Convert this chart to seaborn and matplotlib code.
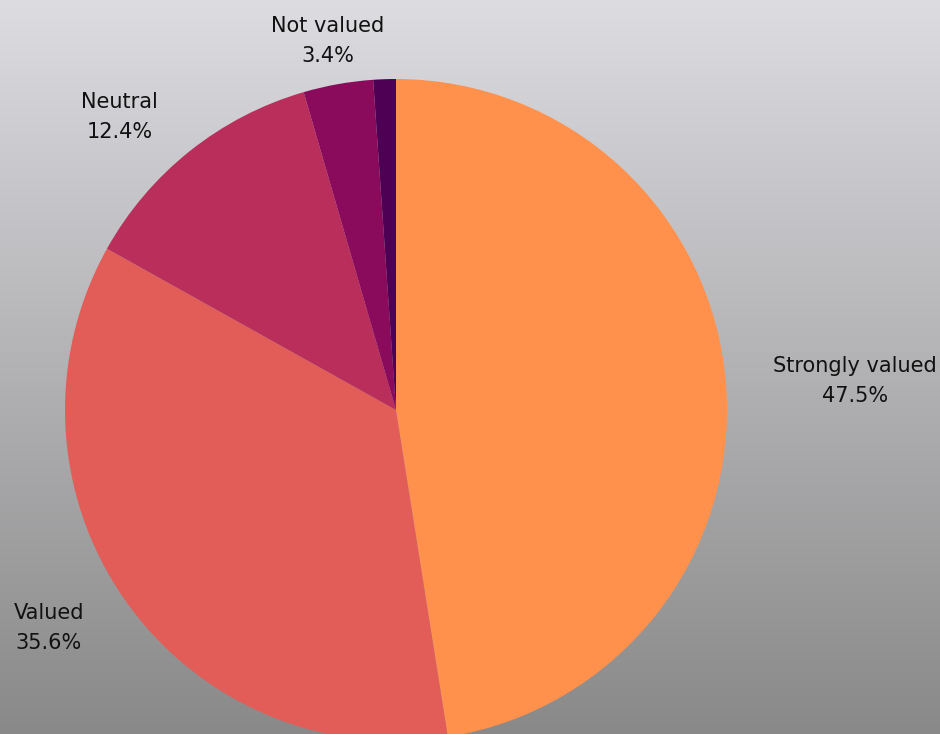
import numpy as np
import matplotlib
matplotlib.use("Agg")
import matplotlib.pyplot as plt
import seaborn as sns

# Survey answers, clockwise from 12 o'clock
categories = ["Strongly valued", "Valued", "Neutral", "Not valued", ""]
shares = [47.5, 35.6, 12.4, 3.4, 1.1]
pct_labels = ["47.5%", "35.6%", "12.4%", "3.4%", ""]
slice_colors = ["#FF914D", "#E35D58", "#B92E5A", "#8A0A5C", "#4E0054"]

# label placement: distance (x radius) and small angle nudge (deg) off the slice middle
label_dist = [1.39, 1.238, 1.216, 1.134, 1.1]
label_nudge = [-0.9, -2.8, 4.8, 0.4, 0.0]

sns.set_style("white")
plt.rcParams["font.family"] = ["DejaVu Sans"]

W, H = 940, 734
fig = plt.figure(figsize=(W / 100, H / 100), dpi=100)

# gradient background, light grey at the top to darker grey at the bottom
bg = fig.add_axes([0, 0, 1, 1])
top = np.array([220, 220, 225]) / 255
bottom = np.array([137, 137, 137]) / 255
t = np.linspace(0, 1, 256)[:, None]
grad = (1 - t) * top + t * bottom
bg.imshow(grad[:, None, :], aspect="auto", extent=[0, 1, 0, 1], zorder=0)
bg.set_axis_off()

ax = fig.add_axes([0, 0, 1, 1])
ax.patch.set_alpha(0)

cx, cy, r = 396, H - 410, 331
wedges, _ = ax.pie(shares, colors=slice_colors, startangle=90, counterclock=False,
                   center=(cx, cy), radius=r, frame=True,
                   wedgeprops=dict(linewidth=0))
ax.set_xlim(0, W)
ax.set_ylim(0, H)
ax.set_aspect("equal")
ax.set_axis_off()

for w, name, pct, d, nudge in zip(wedges, categories, pct_labels, label_dist, label_nudge):
    if not name:
        continue
    ang = np.deg2rad((w.theta1 + w.theta2) / 2 + nudge)
    x = cx + d * r * np.cos(ang)
    y = cy + d * r * np.sin(ang)
    ax.text(x, y, f"{name}\n{pct}", ha="center", va="center", fontsize=15,
            color="#111111", linespacing=1.65)

fig.savefig("out.png", dpi=100)
